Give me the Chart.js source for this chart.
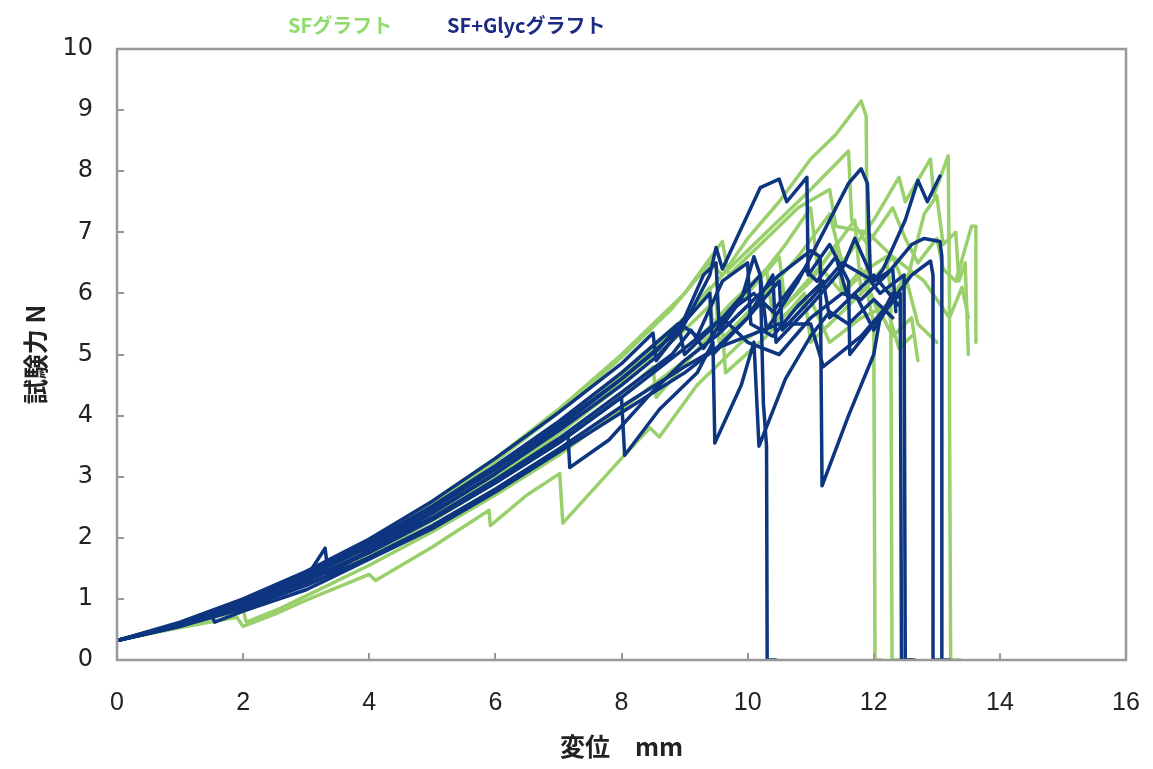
<!DOCTYPE html>
<html>
<head>
<meta charset="utf-8">
<script src="https://cdn.jsdelivr.net/npm/chart.js@4/dist/chart.umd.min.js"></script>
<style>
  body { margin: 0; background: #fff; }
  #wrap { width: 1153px; height: 769px; }
</style>
</head>
<body>
<div id="wrap"><canvas id="chart" width="1153" height="769"></canvas></div>
<script>
// axis ticks
const xTicks = [0, 2, 4, 6, 8, 10, 12, 14, 16]
const yTicks = [0, 1, 2, 3, 4, 5, 6, 7, 8, 9, 10]

const seriesNames = ["SFグラフト", "SF+Glycグラフト"]

// SF graft curves  [displacement mm, force N]
const sf1 = [[0,0.32],[1,0.6],[2,0.95],[3,1.4],[4,1.92],[5,2.55],[6,3.25],[7,4.05],[8,4.95],[8.8,5.75],[9.4,6.5],[9.6,6.3],[10,6.9],[10.5,7.5],[11,8.2],[11.4,8.6],[11.8,9.15],[11.88,8.9],[11.9,6.0],[12,5.5],[12.02,0],[12.12,0]]
const sf2 = [[0,0.32],[1,0.58],[2,0.92],[3,1.35],[4,1.85],[5,2.45],[6,3.1],[7,3.85],[8,4.7],[9,5.6],[9.6,6.3],[10,6.7],[10.5,7.2],[11,7.7],[11.6,8.33],[11.65,7.2],[11.9,6.8],[12.3,7.4],[12.5,6.9],[12.7,6.5],[13,6.9],[13.1,6.4],[13.3,6.2],[13.55,7.1],[13.62,7.1],[13.62,5.2]]
const sf3 = [[0,0.32],[1,0.57],[2,0.88],[3,1.3],[4,1.8],[5,2.38],[6,3.0],[7,3.7],[8,4.5],[9,5.4],[9.5,5.9],[9.55,5.2],[10.2,5.9],[10.8,6.6],[11.3,7.3],[11.5,6.5],[12,7.2],[12.4,7.9],[12.5,7.5],[12.9,8.2],[12.95,7.6],[13.18,8.25],[13.2,6.0],[13.2,4.4],[13.22,0],[13.37,0]]
const sf4 = [[0,0.32],[1,0.55],[2,0.85],[3,1.25],[4,1.72],[5,2.28],[6,2.9],[7,3.6],[8,4.35],[8.5,4.8],[8.55,4.3],[9.3,5.2],[10,6.0],[10.5,6.6],[10.6,5.8],[11.2,6.5],[11.7,7.2],[11.8,6.0],[12.3,6.6],[12.5,6.1],[12.8,7.3],[13,7.6],[13.1,6.8],[13.3,7.0],[13.35,6.2],[13.45,6.5],[13.5,5.0]]
const sf5 = [[0,0.32],[1,0.56],[2,0.86],[3,1.28],[4,1.78],[5,2.35],[6,2.95],[7,3.7],[8,4.55],[8.9,5.5],[9,5.0],[9.7,5.8],[10.3,6.4],[10.4,5.6],[11,6.2],[11.4,6.8],[11.5,6.0],[11.9,6.4],[12.2,6.6],[12.27,6.0],[12.29,0],[12.45,0]]
const sf6 = [[0,0.32],[1,0.53],[1.9,0.7],[2,0.55],[2.5,0.75],[3,0.98],[4,1.4],[4.1,1.3],[5,1.85],[5.9,2.45],[5.92,2.2],[6.5,2.7],[7.02,3.05],[7.07,2.24],[8,3.3],[8.45,3.8],[8.6,3.65],[9.2,4.5],[9.9,5.2],[10.5,5.6],[11,5.9],[11.3,5.2],[11.8,5.6],[12.2,5.8],[12.4,5.1],[12.6,5.3]]
const sf7 = [[0,0.32],[1,0.57],[2,0.9],[3,1.32],[4,1.82],[5,2.4],[6,3.05],[7,3.8],[8,4.65],[9,5.6],[9.4,6.1],[9.45,5.4],[10,6.0],[10.6,6.8],[11,7.4],[11.1,6.5],[11.5,6.0],[11.8,6.4],[12.1,5.6],[12.5,6.3],[12.7,5.5],[13,5.2]]
const sf8 = [[0,0.32],[1,0.6],[2,0.96],[3,1.42],[4,1.95],[5,2.6],[6,3.3],[7,4.1],[8,5.0],[9,6.0],[9.6,6.85],[9.7,6.3],[10.3,6.9],[10.8,7.4],[11.3,7.7],[11.4,7.1],[11.9,7.0],[12.3,6.6],[12.8,6.2],[13.2,5.6],[13.4,6.1],[13.5,5.6]]
const sf9 = [[0,0.32],[1,0.55],[2,0.82],[2.05,0.62],[2.6,0.85],[3,1.05],[4,1.55],[5,2.1],[6,2.7],[7,3.35],[8,4.1],[9,4.9],[9.6,5.4],[9.65,4.7],[10.3,5.3],[10.9,6.0],[11,5.2],[11.5,5.7],[11.9,6.1],[12.3,5.3],[12.6,5.6],[12.7,4.9]]

// SF+Glyc graft curves
const sg1 = [[0,0.32],[1,0.62],[2,1.0],[3,1.45],[4,1.98],[5,2.6],[6,3.3],[7,4.05],[8,4.85],[8.5,5.35],[8.55,4.9],[9,5.5],[9.4,6.3],[9.5,6.75],[9.6,6.4],[10.2,7.73],[10.5,7.87],[10.62,7.5],[10.94,7.9],[10.96,6.3],[11.3,6.8],[11.6,6.2],[11.62,5.0],[12,5.5],[12.42,6.0],[12.44,0],[12.6,0]]
const sg2 = [[0,0.32],[1,0.6],[2,0.97],[3,1.42],[4,1.93],[5,2.52],[6,3.18],[7,3.9],[8,4.7],[8.9,5.5],[9,5.0],[9.6,5.6],[10.2,6.3],[10.3,5.4],[10.8,6.2],[11.3,7.2],[11.6,7.8],[11.8,8.04],[11.9,7.8],[11.95,6.2],[12.1,6.0],[12.48,6.3],[12.5,0],[12.65,0]]
const sg3 = [[0,0.32],[1,0.58],[2,0.92],[3,1.35],[3.3,1.83],[3.35,1.4],[4,1.8],[5,2.4],[6,3.05],[7,3.8],[8,4.6],[8.8,5.3],[9.4,6.0],[9.45,5.0],[10,5.6],[10.5,6.2],[10.55,5.4],[11,5.9],[11.5,6.5],[12,6.2],[12.15,6.4],[12.5,7.2],[12.7,7.85],[12.85,7.5],[13.05,7.92]]
const sg4 = [[0,0.32],[1,0.56],[2,0.88],[3,1.28],[4,1.76],[5,2.3],[6,2.9],[7,3.55],[8,4.3],[9,5.1],[9.6,5.6],[10,5.2],[10.5,5.0],[11,5.6],[11.5,6.0],[11.8,5.9],[12.2,6.3],[12.6,6.8],[12.8,6.9],[13.05,6.85],[13.08,6.6],[13.08,0],[13.2,0]]
const sg5 = [[0,0.32],[1,0.55],[2,0.84],[3,1.22],[4,1.68],[5,2.2],[6,2.8],[7,3.45],[8,4.15],[9,4.8],[9.5,5.1],[10,5.3],[10.5,5.5],[11,5.5],[11.2,4.8],[11.8,5.3],[12.3,5.9],[12.6,6.3],[12.9,6.53],[12.94,6.3],[12.94,0],[13.05,0]]
const sg6 = [[0,0.32],[1,0.6],[2,0.95],[3,1.38],[4,1.9],[5,2.48],[6,3.12],[7,3.85],[8,4.6],[8.6,5.1],[9,5.6],[9.3,6.3],[9.5,6.5],[9.55,5.4],[9.9,5.9],[10.1,6.6],[10.2,6.3],[10.25,4.2],[10.3,3.5],[10.31,0],[10.45,0]]
const sg7 = [[0,0.32],[1,0.58],[2,0.9],[3,1.3],[4,1.78],[5,2.32],[6,2.95],[7,3.6],[7.15,3.7],[7.18,3.15],[7.8,3.6],[8.5,4.4],[9,4.9],[9.5,5.3],[10,5.8],[10.5,6.3],[11,6.7],[11.15,6.6],[11.18,2.85],[11.6,4.0],[12,5.0],[12.1,5.6],[12.3,6.0]]
const sg8 = [[0,0.32],[1,0.57],[2,0.9],[3,1.3],[4,1.76],[5,2.3],[6,2.9],[7,3.55],[8,4.3],[8.05,3.35],[8.6,4.1],[9.2,4.7],[9.45,5.2],[9.48,3.55],[9.9,4.5],[10.1,5.2],[10.18,3.5],[10.6,4.6],[11,5.3],[11.3,5.7],[11.6,5.5],[12,5.9],[12.3,5.6]]
const sg9 = [[0,0.32],[1,0.55],[1.5,0.72],[1.55,0.62],[2,0.8],[3,1.15],[3.3,1.3],[4,1.65],[5,2.15],[6,2.75],[7,3.4],[8,4.05],[9,4.7],[9.5,5.1],[10,5.6],[10.4,6.3],[10.45,5.2],[11,5.8],[11.5,6.4],[11.7,6.9],[12,6.2],[12.3,6.4],[12.35,5.7]]
const sg10 = [[0,0.32],[1,0.59],[2,0.93],[3,1.36],[4,1.85],[5,2.42],[6,3.05],[7,3.75],[8,4.5],[8.6,5.0],[9,5.45],[9.2,5.3],[9.6,6.2],[10,6.5],[10.05,5.5],[10.4,5.3],[10.8,5.8],[11.2,6.2],[11.3,5.6],[11.7,6.0],[12,5.4],[12.3,5.9]]
const sg11 = [[0,0.32],[1,0.57],[2,0.89],[3,1.3],[4,1.78],[5,2.33],[6,2.95],[7,3.62],[8,4.38],[8.8,5.0],[9.1,5.4],[9.3,5.1],[9.7,5.7],[10.1,6.0],[10.4,5.7],[10.9,6.4],[11.1,6.2],[11.4,6.6],[11.6,5.9],[12,6.3],[12.4,5.8]]

const sfCurves = [sf1, sf2, sf3, sf4, sf5, sf6, sf7, sf8, sf9]
const sgCurves = [sg1, sg2, sg3, sg4, sg5, sg6, sg7, sg8, sg9, sg10, sg11]

const greenLine = "#9ad06c"
const blueLine = "#0d3580"
const greenText = "#8fdc6c"
const blueText = "#1b2a82"

function makeSet(points, color, name, order) {
  return {
    label: name,
    data: points.map(p => ({ x: p[0], y: p[1] })),
    borderColor: color,
    backgroundColor: color,
    borderWidth: 3.5,
    pointRadius: 0,
    tension: 0,
    fill: false,
    borderJoinStyle: "round",
    borderCapStyle: "round",
    order: order
  }
}

let datasets = []
sfCurves.forEach(c => datasets.push(makeSet(c, greenLine, seriesNames[0], 2)))
sgCurves.forEach(c => datasets.push(makeSet(c, blueLine, seriesNames[1], 1)))

// box round the plot area, little ticks pointing inwards, text legend on top
const framePlugin = {
  id: "frame",
  afterDatasetsDraw(chart) {
    const ctx = chart.ctx
    const a = chart.chartArea
    const xs = chart.scales.x
    const ys = chart.scales.y
    ctx.save()
    ctx.strokeStyle = "#999999"
    ctx.lineWidth = 2
    ctx.beginPath()
    xTicks.forEach(v => {
      const px = Math.round(xs.getPixelForValue(v))
      ctx.moveTo(px, a.bottom)
      ctx.lineTo(px, a.bottom - 7)
    })
    yTicks.forEach(v => {
      const py = Math.round(ys.getPixelForValue(v))
      ctx.moveTo(a.left, py)
      ctx.lineTo(a.left + 7, py)
    })
    ctx.stroke()
    ctx.lineWidth = 2.5
    ctx.strokeRect(a.left, a.top, a.right - a.left, a.bottom - a.top)

    ctx.font = "bold 20px 'Noto Sans CJK JP'"
    ctx.textBaseline = "middle"
    ctx.textAlign = "left"
    ctx.fillStyle = greenText
    ctx.fillText(seriesNames[0], 288, 25)
    ctx.fillStyle = blueText
    ctx.fillText(seriesNames[1], 447, 25)
    ctx.restore()
  }
}

const ctx = document.getElementById("chart")

new Chart(ctx, {
  type: "line",
  data: { datasets: datasets },
  plugins: [framePlugin],
  options: {
    responsive: false,
    animation: false,
    devicePixelRatio: 1,
    layout: { padding: { top: 49, right: 27, left: 0, bottom: 0 } },
    plugins: {
      legend: { display: false },
      tooltip: { enabled: false }
    },
    scales: {
      x: {
        type: "linear",
        min: 0,
        max: 16,
        afterBuildTicks: s => { s.ticks = xTicks.map(v => ({ value: v })) },
        afterFit: s => { s.height = 109; s.paddingLeft = 0; s.paddingRight = 0 },
        grid: { display: false, drawTicks: false },
        border: { display: false },
        ticks: {
          padding: 28,
          color: "#222",
          font: { family: "'Liberation Sans Narrow', 'Liberation Sans'", size: 25 }
        },
        title: {
          display: true,
          text: "変位　mm",
          color: "#222",
          padding: { top: 0, bottom: 8 },
          font: { family: "'Noto Sans CJK JP'", size: 25, weight: "bold" }
        }
      },
      y: {
        min: 0,
        max: 10,
        afterBuildTicks: s => { s.ticks = yTicks.map(v => ({ value: v })) },
        afterFit: s => { s.width = 117; s.paddingTop = 0; s.paddingBottom = 0 },
        grid: { display: false, drawTicks: false },
        border: { display: false },
        ticks: {
          padding: 24,
          color: "#222",
          font: { family: "'DejaVu Sans'", size: 24 }
        },
        title: {
          display: true,
          text: "試験力 N",
          color: "#222",
          padding: { top: 20, bottom: 0 },
          font: { family: "'Noto Sans CJK JP'", size: 25, weight: "bold" }
        }
      }
    }
  }
})
</script>
</body>
</html>
